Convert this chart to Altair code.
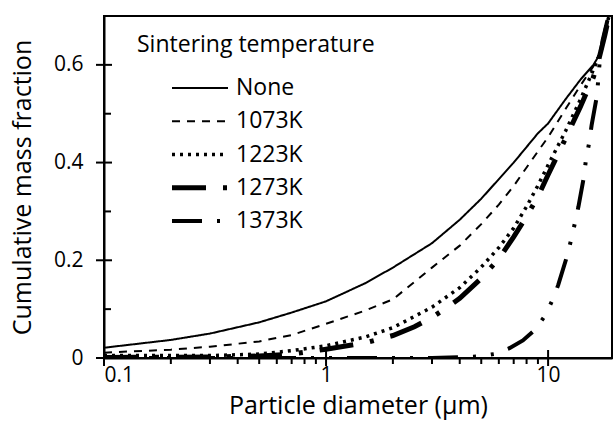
import altair as alt
import pandas as pd

FONT = "Open Sans"

series_names = ["None", "1073K", "1223K", "1273K", "1373K"]
legend_title = ["Sintering temperature"]

d_none = [0.1, 0.2, 0.3, 0.5, 0.7, 1, 1.5, 2, 3, 4, 5, 7, 9, 10, 12, 14, 16, 17, 18, 19]
v_none = [0.021, 0.037, 0.05, 0.073, 0.093, 0.116, 0.153, 0.185, 0.235, 0.283, 0.326, 0.40, 0.46, 0.48, 0.53, 0.57, 0.60, 0.62, 0.66, 0.72]

d_1073 = [0.1, 0.2, 0.3, 0.5, 0.7, 1, 1.5, 2, 3, 4, 5, 6, 7, 8, 9, 10, 12, 14, 16, 17, 18, 19]
v_1073 = [0.011, 0.017, 0.023, 0.034, 0.047, 0.07, 0.097, 0.12, 0.185, 0.23, 0.274, 0.314, 0.352, 0.39, 0.423, 0.452, 0.51, 0.558, 0.597, 0.622, 0.66, 0.71]

d_1223 = [0.1, 0.3, 0.5, 0.7, 1, 1.5, 2, 3, 4, 5, 6, 7, 8, 9, 10, 12, 14, 16, 17, 18, 19]
v_1223 = [0.005, 0.005, 0.008, 0.015, 0.025, 0.043, 0.062, 0.104, 0.144, 0.186, 0.226, 0.266, 0.31, 0.353, 0.395, 0.465, 0.53, 0.59, 0.62, 0.66, 0.71]

d_1273 = [0.1, 0.3, 0.5, 0.7, 1, 1.5, 2, 2.5, 3, 3.5, 4, 5, 6, 7, 8, 9, 10, 12, 14, 16, 17, 18, 19]
v_1273 = [0.001, 0.002, 0.004, 0.008, 0.018, 0.031, 0.046, 0.064, 0.083, 0.103, 0.122, 0.163, 0.203, 0.248, 0.29, 0.33, 0.375, 0.45, 0.515, 0.575, 0.615, 0.66, 0.71]

d_1373 = [0.1, 1, 3, 4.8, 5.7, 6.7, 7.7, 8.7, 9.6, 10.4, 11.1, 12.2, 12.7, 13.2, 13.7, 14.5, 14.8, 15.3, 15.7, 16.6, 17.1, 17.6, 18.7]
v_1373 = [0, 0, 0, 0.003, 0.008, 0.02, 0.036, 0.057, 0.084, 0.116, 0.149, 0.21, 0.242, 0.276, 0.31, 0.371, 0.405, 0.44, 0.476, 0.537, 0.61, 0.65, 0.70]

y_major = [0, 0.2, 0.4, 0.6]
y_minor = [0.1, 0.3, 0.5]
x_major = [0.1, 1, 10]
x_minor = [0.2, 0.3, 0.4, 0.5, 0.6, 0.7, 0.8, 0.9, 2, 3, 4, 5, 6, 7, 8, 9]

rows = []
for name, ds, vs in zip(series_names,
                        [d_none, d_1073, d_1223, d_1273, d_1373],
                        [v_none, v_1073, v_1223, v_1273, v_1373]):
    for i, (d, v) in enumerate(zip(ds, vs)):
        rows.append({"series": name, "d": d, "v": v, "i": i})
df = pd.DataFrame(rows)
leg_df = pd.DataFrame({"series": series_names, "row": list(range(len(series_names)))})

dash_range = [[1, 0], [8, 7], [3, 5], [34, 17, 4, 17], [30, 15, 3, 15, 3, 15]]
width_range = [2, 2, 3.5, 5, 4]

xscale = alt.Scale(type="log", domain=[0.1, 19.4], nice=False)
yscale = alt.Scale(domain=[0, 0.7], nice=False, zero=False)
dash_enc = alt.StrokeDash("series:N", scale=alt.Scale(domain=series_names, range=dash_range), legend=None)
width_enc = alt.StrokeWidth("series:N", scale=alt.Scale(type="ordinal", domain=series_names, range=width_range), legend=None)

lines = alt.Chart(df).mark_line(clip=True, color="black").encode(
    x=alt.X("d:Q", scale=xscale,
            axis=alt.Axis(values=x_major, ticks=False, tickSize=0, labelPadding=6,
                          title="Particle diameter (µm)", titlePadding=8,
                          labelExpr="datum.value >= 1 ? format(datum.value, 'd') : format(datum.value, '.1f')")),
    y=alt.Y("v:Q", scale=yscale,
            axis=alt.Axis(values=y_major, ticks=False, tickSize=0, labelPadding=21,
                          title="Cumulative mass fraction", titlePadding=18,
                          labelExpr="datum.value == 0 ? '0' : format(datum.value, '.1f')")),
    strokeDash=dash_enc,
    strokeWidth=width_enc,
    detail="series:N",
    order="i:Q",
)

# axis ticks (major ticks cross the axis, minor ticks on one side)
ytick_major = alt.Chart(pd.DataFrame({"v": y_major})).mark_rule(color="black", strokeWidth=2).encode(
    y=alt.Y("v:Q", scale=yscale, axis=None), x=alt.value(-8), x2=alt.value(8))
ytick_minor = alt.Chart(pd.DataFrame({"v": y_minor})).mark_rule(color="black", strokeWidth=2).encode(
    y=alt.Y("v:Q", scale=yscale, axis=None), x=alt.value(0), x2=alt.value(7))
xtick_major = alt.Chart(pd.DataFrame({"d": x_major})).mark_rule(color="black", strokeWidth=2).encode(
    x=alt.X("d:Q", scale=xscale, axis=None), y=alt.value(334), y2=alt.value(350))
xtick_minor = alt.Chart(pd.DataFrame({"d": x_minor})).mark_rule(color="black", strokeWidth=2).encode(
    x=alt.X("d:Q", scale=xscale, axis=None), y=alt.value(342), y2=alt.value(348))

# legend
row_scale = alt.Scale(type="point", domain=list(range(len(series_names))), range=[72, 205], padding=0)
leg_rules = alt.Chart(leg_df).mark_rule(color="black").encode(
    y=alt.Y("row:O", scale=row_scale, axis=None),
    x=alt.value(68), x2=alt.value(124),
    strokeDash=dash_enc, strokeWidth=width_enc,
)
leg_labels = alt.Chart(leg_df).mark_text(align="left", baseline="middle", font=FONT,
                                         fontSize=23, color="black").encode(
    y=alt.Y("row:O", scale=row_scale, axis=None),
    x=alt.value(132), text="series:N",
)
leg_title = alt.Chart(pd.DataFrame({"t": legend_title})).mark_text(
    align="left", baseline="middle", font=FONT, fontSize=23, color="black").encode(
    x=alt.value(33), y=alt.value(29), text="t:N")

chart = alt.layer(
    lines, ytick_major, ytick_minor, xtick_major, xtick_minor, leg_rules, leg_labels, leg_title
).resolve_scale(
    y="independent"
).resolve_axis(
    x="independent", y="independent"
).properties(
    width=508, height=342,
    padding={"left": 104, "top": 16, "right": 2, "bottom": 79},
    autosize=alt.AutoSizeParams(type="none"),
).configure_view(
    stroke="black", strokeWidth=2
).configure_axis(
    grid=False, domainColor="black", domainWidth=2,
    labelFont=FONT, labelFontSize=21, labelColor="black",
    titleFont=FONT, titleFontSize=25, titleColor="black", titleFontWeight="normal",
)

chart.save("out.html", embed_options={"renderer": "svg", "actions": False})
